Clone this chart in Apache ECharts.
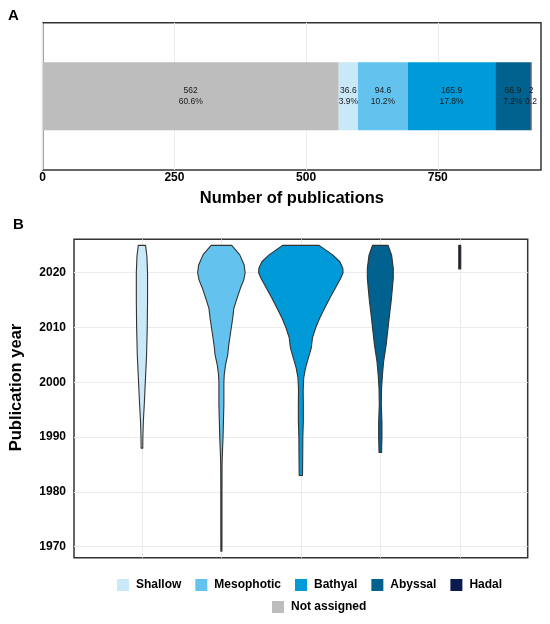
<!DOCTYPE html>
<html lang="en">
<head>
    <meta charset="UTF-8">
    <title>Publications by depth zone</title>
    <script src="https://cdn.jsdelivr.net/npm/echarts@6/dist/echarts.min.js"></script>
    <style>
        html, body { margin: 0; padding: 0; background: #fff; }
        #chart { width: 550px; height: 624px; }
    </style>
</head>
<body>
<div id="chart"></div>
<script>
    // panel A: stacked bar
    var barNames = ['Not assigned', 'Shallow', 'Mesophotic', 'Bathyal', 'Abyssal', 'Hadal'];
    var barValues = [562, 36.6, 94.6, 165.9, 66.9, 2];
    var barPct = ['60.6%', '3.9%', '10.2%', '17.8%', '7.2%', '0.2'];
    var xTicks = [0, 250, 500, 750];

    // panel B: violins, [year, relative width]
    var zoneNames = ['Shallow', 'Mesophotic', 'Bathyal', 'Abyssal', 'Hadal'];
    var yearTicks = [1970, 1980, 1990, 2000, 2010, 2020];
    var shallowProfile = [
        [2025, 0.086], [2023, 0.118], [2020, 0.133], [2015, 0.133], [2010, 0.126],
        [2005, 0.110], [2000, 0.080], [1996, 0.056], [1993, 0.034], [1990, 0.022], [1988, 0.020]
    ];
    var mesophoticProfile = [
        [2025, 0.244], [2023.3, 0.433], [2021.4, 0.540], [2020, 0.563], [2018.7, 0.531],
        [2017.2, 0.452], [2015.4, 0.374], [2013.5, 0.295], [2011.7, 0.268], [2010, 0.236],
        [2008, 0.197], [2006.8, 0.174], [2005, 0.150], [2003.2, 0.098], [2001.4, 0.068],
        [2000, 0.059], [1996, 0.059], [1990, 0.039], [1987, 0.024], [1985, 0.016],
        [1980, 0.014], [1975, 0.014], [1970, 0.013], [1969.2, 0.012]
    ];
    var bathyalProfile = [
        [2025, 0.433], [2023.3, 0.747], [2022, 0.924], [2020.8, 0.995], [2020, 1.0],
        [2019, 0.945], [2017.2, 0.818], [2015.4, 0.688], [2013.5, 0.563], [2011.7, 0.445],
        [2010, 0.354], [2008.1, 0.275], [2006.3, 0.248], [2004.4, 0.177], [2002.6, 0.110],
        [2000.8, 0.068], [1998.6, 0.055], [1996, 0.059], [1993, 0.059], [1990, 0.047],
        [1986.4, 0.044], [1983, 0.039]
    ];
    var abyssalProfile = [
        [2025, 0.185], [2023.2, 0.268], [2020.8, 0.307], [2019, 0.307], [2017.2, 0.287],
        [2014.7, 0.256], [2011.7, 0.209], [2010, 0.185], [2006.8, 0.138], [2003.8, 0.079],
        [2001.3, 0.050], [1998.9, 0.030], [1996, 0.024], [1992.6, 0.039], [1990, 0.039],
        [1987.2, 0.030]
    ];
    var hadalProfile = [[2025, 0.024], [2020.7, 0.024]];
    var profiles = [shallowProfile, mesophoticProfile, bathyalProfile, abyssalProfile, hadalProfile];

    var colors = {
        'Not assigned': '#bdbdbd',
        'Shallow': '#c9e9f8',
        'Mesophotic': '#63c3ee',
        'Bathyal': '#009ad9',
        'Abyssal': '#02628f',
        'Hadal': '#0b1b4d'
    };

    var FONT = 'Liberation Sans, Arial, sans-serif';
    var HALF = 0.531; // half width of a violin whose relative width is 1

    var chart = echarts.init(document.getElementById('chart'));

    var series = [];
    barNames.forEach(function (name, i) {
        series.push({
            name: name,
            type: 'bar',
            stack: 'all',
            xAxisIndex: 0,
            yAxisIndex: 0,
            barWidth: 68,
            itemStyle: {color: colors[name]},
            label: {
                show: true,
                position: 'inside',
                fontFamily: FONT,
                fontSize: 8.5,
                lineHeight: 11,
                color: '#1a1a1a',
                formatter: function (p) {
                    return p.value + '\n' + barPct[i];
                }
            },
            emphasis: {disabled: true},
            data: [barValues[i]]
        });
    });

    zoneNames.forEach(function (name, i) {
        var prof = profiles[i];
        series.push({
            name: name,
            type: 'custom',
            xAxisIndex: 1,
            yAxisIndex: 1,
            itemStyle: {color: colors[name]},
            data: [[i, prof[0][0]]],
            renderItem: function (params, api) {
                var right = prof.map(function (p) {
                    return api.coord([i + p[1] * HALF, p[0]]);
                });
                var left = prof.map(function (p) {
                    return api.coord([i - p[1] * HALF, p[0]]);
                }).reverse();
                return {
                    type: 'polygon',
                    shape: {points: right.concat(left)},
                    style: {fill: colors[name], stroke: '#333', lineWidth: 1.1, lineJoin: 'round'}
                };
            }
        });
    });

    var option = {
        animation: false,
        backgroundColor: '#fff',
        textStyle: {fontFamily: FONT},
        graphic: [
            {type: 'text', left: 8, top: 8, style: {text: 'A', font: 'bold 15px ' + FONT, fill: '#000'}},
            {type: 'text', left: 13, top: 217, style: {text: 'B', font: 'bold 15px ' + FONT, fill: '#000'}}
        ],
        legend: [
            {
                data: zoneNames,
                left: 112,
                top: 574,
                icon: 'rect',
                itemWidth: 12,
                itemHeight: 12,
                itemGap: 14,
                selectedMode: false,
                textStyle: {fontFamily: FONT, fontSize: 12, fontWeight: 'bold', color: '#000', padding: [0, 0, 0, 2]}
            },
            {
                data: ['Not assigned'],
                left: 267,
                top: 596,
                icon: 'rect',
                itemWidth: 12,
                itemHeight: 12,
                selectedMode: false,
                textStyle: {fontFamily: FONT, fontSize: 12, fontWeight: 'bold', color: '#000', padding: [0, 0, 0, 2]}
            }
        ],
        grid: [
            {left: 42.7, right: 9, top: 22.7, bottom: 454, show: true, borderColor: '#333', borderWidth: 1.5},
            {left: 74, right: 22.3, top: 239.3, bottom: 66.3, show: true, borderColor: '#333', borderWidth: 1.5}
        ],
        xAxis: [
            {
                type: 'value',
                gridIndex: 0,
                min: 0,
                max: 946,
                name: 'Number of publications',
                nameLocation: 'middle',
                nameGap: 20,
                nameTextStyle: {fontFamily: FONT, fontSize: 16.5, fontWeight: 'bold', color: '#000'},
                axisLine: {show: false},
                axisTick: {show: false, customValues: xTicks},
                axisLabel: {customValues: xTicks, margin: 2, fontFamily: FONT, fontSize: 12, fontWeight: 'bold', color: '#000'},
                splitLine: {show: true, lineStyle: {color: '#ebebeb', width: 1}}
            },
            {
                type: 'value',
                gridIndex: 1,
                min: -0.855,
                max: 4.855,
                axisLine: {show: false},
                axisTick: {show: false, customValues: [0, 1, 2, 3, 4]},
                axisLabel: {show: false},
                splitLine: {show: true, lineStyle: {color: '#ebebeb', width: 1}}
            }
        ],
        yAxis: [
            {
                type: 'category',
                gridIndex: 0,
                data: ['All'],
                axisLine: {show: false},
                axisTick: {show: false},
                axisLabel: {show: false},
                splitLine: {show: false}
            },
            {
                type: 'value',
                gridIndex: 1,
                min: 1968,
                max: 2026.1,
                name: 'Publication year',
                nameLocation: 'middle',
                nameGap: 49,
                nameTextStyle: {fontFamily: FONT, fontSize: 16.5, fontWeight: 'bold', color: '#000', padding: [0, 0, 0, 22]},
                axisLine: {show: false},
                axisTick: {show: false, customValues: yearTicks},
                axisLabel: {
                    customValues: yearTicks, margin: 8, fontFamily: FONT, fontSize: 12, fontWeight: 'bold', color: '#000',
                    formatter: function (v) { return String(v); }
                },
                splitLine: {show: true, lineStyle: {color: '#ebebeb', width: 1}}
            }
        ],
        series: series
    };

    chart.setOption(option);
</script>
</body>
</html>
